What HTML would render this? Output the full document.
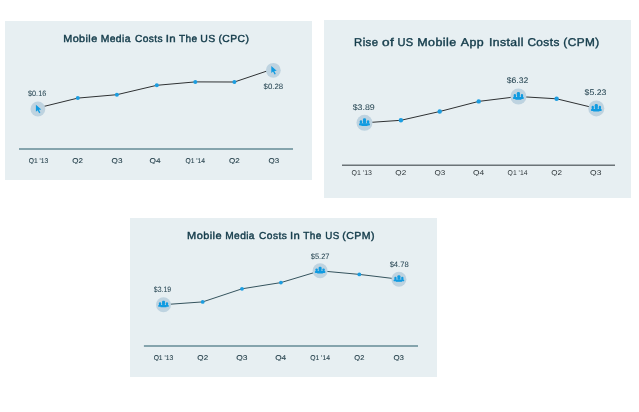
<!DOCTYPE html>
<html><head><meta charset="utf-8"><style>
html,body{margin:0;padding:0;background:#fff;width:639px;height:412px;overflow:hidden}
svg{display:block;font-family:"Liberation Sans",sans-serif;text-rendering:geometricPrecision;font-kerning:none;will-change:transform}
</style></head><body>
<svg width="639" height="412" viewBox="0 0 639 412">
<rect x="5" y="21" width="307" height="159" fill="#e7eff2"/>
<text x="63.21" y="42.00" font-size="10.2" fill="#133b4a" stroke="#133b4a" stroke-width="0.4" letter-spacing="0.4" textLength="34.39" lengthAdjust="spacingAndGlyphs">Mobile</text>
<text x="100.65" y="42.00" font-size="10.2" fill="#133b4a" stroke="#133b4a" stroke-width="0.4" letter-spacing="0.4" textLength="30.26" lengthAdjust="spacingAndGlyphs">Media</text>
<text x="134.98" y="42.00" font-size="10.2" fill="#133b4a" stroke="#133b4a" stroke-width="0.4" letter-spacing="0.4" textLength="28.09" lengthAdjust="spacingAndGlyphs">Costs</text>
<text x="165.74" y="42.00" font-size="10.2" fill="#133b4a" stroke="#133b4a" stroke-width="0.4" letter-spacing="0.4" textLength="10.45" lengthAdjust="spacingAndGlyphs">In</text>
<text x="179.07" y="42.00" font-size="10.2" fill="#133b4a" stroke="#133b4a" stroke-width="0.4" letter-spacing="0.4" textLength="18.46" lengthAdjust="spacingAndGlyphs">The</text>
<text x="200.29" y="42.00" font-size="10.2" fill="#133b4a" stroke="#133b4a" stroke-width="0.4" letter-spacing="0.4" textLength="15.40" lengthAdjust="spacingAndGlyphs">US</text>
<text x="218.46" y="42.00" font-size="10.2" fill="#133b4a" stroke="#133b4a" stroke-width="0.4" letter-spacing="0.4" textLength="30.90" lengthAdjust="spacingAndGlyphs">(CPC)</text>
<line x1="19" y1="149" x2="293" y2="149" stroke="#85a4ad" stroke-width="2"/>
<clipPath id="c5"><rect x="5" y="155.00" width="307" height="8.90"/></clipPath><g clip-path="url(#c5)">
<text x="28.73" y="163.00" font-size="7" fill="#28434e" stroke="#28434e" stroke-width="0.1" textLength="19.51" lengthAdjust="spacingAndGlyphs">Q1 &#39;13</text>
<text x="72.27" y="163.00" font-size="7" fill="#28434e" stroke="#28434e" stroke-width="0.1" textLength="10.68" lengthAdjust="spacingAndGlyphs">Q2</text>
<text x="111.57" y="163.00" font-size="7" fill="#28434e" stroke="#28434e" stroke-width="0.1" textLength="10.84" lengthAdjust="spacingAndGlyphs">Q3</text>
<text x="149.46" y="163.00" font-size="7" fill="#28434e" stroke="#28434e" stroke-width="0.1" textLength="11.03" lengthAdjust="spacingAndGlyphs">Q4</text>
<text x="185.43" y="163.00" font-size="7" fill="#28434e" stroke="#28434e" stroke-width="0.1" textLength="19.51" lengthAdjust="spacingAndGlyphs">Q1 &#39;14</text>
<text x="229.07" y="163.00" font-size="7" fill="#28434e" stroke="#28434e" stroke-width="0.1" textLength="10.68" lengthAdjust="spacingAndGlyphs">Q2</text>
<text x="268.57" y="163.00" font-size="7" fill="#28434e" stroke="#28434e" stroke-width="0.1" textLength="10.63" lengthAdjust="spacingAndGlyphs">Q3</text>
</g>
<path d="M37.90,107.90 L77.80,98.10 L116.90,94.70 L156.80,85.30 L195.30,81.90 L234.40,82.00 L273.30,68.90" fill="none" stroke="#2e3133" stroke-width="1"/>
<circle cx="37.90" cy="109.00" r="7.4" fill="#bed3e0"/>
<path d="M35.90,104.70 L35.90,111.80 L37.60,110.20 L39.20,113.20 L40.40,112.60 L38.90,109.70 L41.30,109.40 Z" fill="#109be1"/>
<circle cx="77.80" cy="98.10" r="2.0" fill="#1c9de0"/>
<circle cx="116.90" cy="94.70" r="2.0" fill="#1c9de0"/>
<circle cx="156.80" cy="85.30" r="2.0" fill="#1c9de0"/>
<circle cx="195.30" cy="81.90" r="2.0" fill="#1c9de0"/>
<circle cx="234.40" cy="82.00" r="2.0" fill="#1c9de0"/>
<circle cx="273.30" cy="70.30" r="7.4" fill="#bed3e0"/>
<path d="M271.30,66.00 L271.30,73.10 L273.00,71.50 L274.60,74.50 L275.80,73.90 L274.30,71.00 L276.70,70.70 Z" fill="#109be1"/>
<text x="28.05" y="95.90" font-size="7.8" fill="#2c4a57" stroke="#2c4a57" stroke-width="0.05" textLength="18.15" lengthAdjust="spacingAndGlyphs">$0.16</text>
<text x="263.64" y="89.40" font-size="7.8" fill="#2c4a57" stroke="#2c4a57" stroke-width="0.05" textLength="19.57" lengthAdjust="spacingAndGlyphs">$0.28</text>
<rect x="324" y="20" width="307" height="178" fill="#e7eff2"/>
<text x="354.07" y="45.60" font-size="11.3" fill="#133b4a" stroke="#133b4a" stroke-width="0.4" letter-spacing="0.4" textLength="24.34" lengthAdjust="spacingAndGlyphs">Rise</text>
<text x="382.03" y="45.60" font-size="11.3" fill="#133b4a" stroke="#133b4a" stroke-width="0.4" letter-spacing="0.4" textLength="12.34" lengthAdjust="spacingAndGlyphs">of</text>
<text x="397.45" y="45.60" font-size="11.3" fill="#133b4a" stroke="#133b4a" stroke-width="0.4" letter-spacing="0.4" textLength="16.15" lengthAdjust="spacingAndGlyphs">US</text>
<text x="417.28" y="45.60" font-size="11.3" fill="#133b4a" stroke="#133b4a" stroke-width="0.4" letter-spacing="0.4" textLength="39.42" lengthAdjust="spacingAndGlyphs">Mobile</text>
<text x="460.78" y="45.60" font-size="11.3" fill="#133b4a" stroke="#133b4a" stroke-width="0.4" letter-spacing="0.4" textLength="23.38" lengthAdjust="spacingAndGlyphs">App</text>
<text x="488.97" y="45.60" font-size="11.3" fill="#133b4a" stroke="#133b4a" stroke-width="0.4" letter-spacing="0.4" textLength="34.87" lengthAdjust="spacingAndGlyphs">Install</text>
<text x="527.40" y="45.60" font-size="11.3" fill="#133b4a" stroke="#133b4a" stroke-width="0.4" letter-spacing="0.4" textLength="32.35" lengthAdjust="spacingAndGlyphs">Costs</text>
<text x="563.37" y="45.60" font-size="11.3" fill="#133b4a" stroke="#133b4a" stroke-width="0.4" letter-spacing="0.4" textLength="36.18" lengthAdjust="spacingAndGlyphs">(CPM)</text>
<line x1="342" y1="165.2" x2="615" y2="165.2" stroke="#6b7377" stroke-width="1.5"/>
<clipPath id="c324"><rect x="324" y="167.00" width="307" height="8.90"/></clipPath><g clip-path="url(#c324)">
<text x="351.57" y="175.00" font-size="7" fill="#2f373b" textLength="20.34" lengthAdjust="spacingAndGlyphs">Q1 &#39;13</text>
<text x="395.31" y="175.00" font-size="7" fill="#2f373b" textLength="10.90" lengthAdjust="spacingAndGlyphs">Q2</text>
<text x="434.52" y="175.00" font-size="7" fill="#2f373b" textLength="10.84" lengthAdjust="spacingAndGlyphs">Q3</text>
<text x="473.10" y="175.00" font-size="7" fill="#2f373b" textLength="11.14" lengthAdjust="spacingAndGlyphs">Q4</text>
<text x="507.58" y="175.00" font-size="7" fill="#2f373b" textLength="19.92" lengthAdjust="spacingAndGlyphs">Q1 &#39;14</text>
<text x="551.22" y="175.00" font-size="7" fill="#2f373b" textLength="10.79" lengthAdjust="spacingAndGlyphs">Q2</text>
<text x="590.00" y="175.00" font-size="7" fill="#2f373b" textLength="11.38" lengthAdjust="spacingAndGlyphs">Q3</text>
</g>
<path d="M364.50,122.80 L400.90,120.30 L439.70,111.50 L478.70,101.40 L518.40,96.50 L556.60,98.80 L596.30,108.40" fill="none" stroke="#2e3133" stroke-width="1"/>
<circle cx="364.50" cy="122.80" r="8.0" fill="#bed3e0"/>
<rect x="359.00" y="123.30" width="11.00" height="2.10" rx="1.00" fill="#109be1"/><rect x="361.30" y="124.50" width="6.40" height="1.50" rx="0.70" fill="#109be1"/><rect x="359.80" y="120.20" width="2.30" height="3.60" rx="1.10" fill="#109be1"/><rect x="366.90" y="120.20" width="2.30" height="3.60" rx="1.10" fill="#109be1"/><rect x="362.95" y="118.30" width="3.10" height="5.40" rx="1.30" fill="#109be1"/>
<circle cx="400.90" cy="120.30" r="2.2" fill="#1c9de0"/>
<circle cx="439.70" cy="111.50" r="2.2" fill="#1c9de0"/>
<circle cx="478.70" cy="101.40" r="2.2" fill="#1c9de0"/>
<circle cx="518.40" cy="96.50" r="8.0" fill="#bed3e0"/>
<rect x="512.90" y="97.00" width="11.00" height="2.10" rx="1.00" fill="#109be1"/><rect x="515.20" y="98.20" width="6.40" height="1.50" rx="0.70" fill="#109be1"/><rect x="513.70" y="93.90" width="2.30" height="3.60" rx="1.10" fill="#109be1"/><rect x="520.80" y="93.90" width="2.30" height="3.60" rx="1.10" fill="#109be1"/><rect x="516.85" y="92.00" width="3.10" height="5.40" rx="1.30" fill="#109be1"/>
<circle cx="556.60" cy="98.80" r="2.2" fill="#1c9de0"/>
<circle cx="596.30" cy="108.40" r="8.0" fill="#bed3e0"/>
<rect x="590.80" y="108.90" width="11.00" height="2.10" rx="1.00" fill="#109be1"/><rect x="593.10" y="110.10" width="6.40" height="1.50" rx="0.70" fill="#109be1"/><rect x="591.60" y="105.80" width="2.30" height="3.60" rx="1.10" fill="#109be1"/><rect x="598.70" y="105.80" width="2.30" height="3.60" rx="1.10" fill="#109be1"/><rect x="594.75" y="103.90" width="3.10" height="5.40" rx="1.30" fill="#109be1"/>
<text x="352.73" y="109.70" font-size="8.2" fill="#2c4a57" stroke="#2c4a57" stroke-width="0.05" textLength="22.06" lengthAdjust="spacingAndGlyphs">$3.89</text>
<text x="506.73" y="83.10" font-size="8.2" fill="#2c4a57" stroke="#2c4a57" stroke-width="0.05" textLength="21.68" lengthAdjust="spacingAndGlyphs">$6.32</text>
<text x="584.53" y="95.30" font-size="8.2" fill="#2c4a57" stroke="#2c4a57" stroke-width="0.05" textLength="21.93" lengthAdjust="spacingAndGlyphs">$5.23</text>
<rect x="130" y="218" width="307" height="159" fill="#e7eff2"/>
<text x="187.10" y="239.00" font-size="10.1" fill="#133b4a" stroke="#133b4a" stroke-width="0.4" letter-spacing="0.4" textLength="34.92" lengthAdjust="spacingAndGlyphs">Mobile</text>
<text x="225.27" y="239.00" font-size="10.1" fill="#133b4a" stroke="#133b4a" stroke-width="0.4" letter-spacing="0.4" textLength="29.63" lengthAdjust="spacingAndGlyphs">Media</text>
<text x="259.08" y="239.00" font-size="10.1" fill="#133b4a" stroke="#133b4a" stroke-width="0.4" letter-spacing="0.4" textLength="28.09" lengthAdjust="spacingAndGlyphs">Costs</text>
<text x="289.96" y="239.00" font-size="10.1" fill="#133b4a" stroke="#133b4a" stroke-width="0.4" letter-spacing="0.4" textLength="10.33" lengthAdjust="spacingAndGlyphs">In</text>
<text x="303.27" y="239.00" font-size="10.1" fill="#133b4a" stroke="#133b4a" stroke-width="0.4" letter-spacing="0.4" textLength="18.47" lengthAdjust="spacingAndGlyphs">The</text>
<text x="325.34" y="239.00" font-size="10.1" fill="#133b4a" stroke="#133b4a" stroke-width="0.4" letter-spacing="0.4" textLength="14.39" lengthAdjust="spacingAndGlyphs">US</text>
<text x="342.34" y="239.00" font-size="10.1" fill="#133b4a" stroke="#133b4a" stroke-width="0.4" letter-spacing="0.4" textLength="32.63" lengthAdjust="spacingAndGlyphs">(CPM)</text>
<line x1="143.9" y1="346" x2="418" y2="346" stroke="#85a4ad" stroke-width="2"/>
<clipPath id="c130"><rect x="130" y="352.10" width="307" height="8.90"/></clipPath><g clip-path="url(#c130)">
<text x="153.63" y="360.10" font-size="7" fill="#28434e" stroke="#28434e" stroke-width="0.1" textLength="19.61" lengthAdjust="spacingAndGlyphs">Q1 &#39;13</text>
<text x="197.37" y="360.10" font-size="7" fill="#28434e" stroke="#28434e" stroke-width="0.1" textLength="10.79" lengthAdjust="spacingAndGlyphs">Q2</text>
<text x="236.25" y="360.10" font-size="7" fill="#28434e" stroke="#28434e" stroke-width="0.1" textLength="11.27" lengthAdjust="spacingAndGlyphs">Q3</text>
<text x="275.16" y="360.10" font-size="7" fill="#28434e" stroke="#28434e" stroke-width="0.1" textLength="11.03" lengthAdjust="spacingAndGlyphs">Q4</text>
<text x="310.23" y="360.10" font-size="7" fill="#28434e" stroke="#28434e" stroke-width="0.1" textLength="19.72" lengthAdjust="spacingAndGlyphs">Q1 &#39;14</text>
<text x="354.29" y="360.10" font-size="7" fill="#28434e" stroke="#28434e" stroke-width="0.1" textLength="10.03" lengthAdjust="spacingAndGlyphs">Q2</text>
<text x="393.48" y="360.10" font-size="7" fill="#28434e" stroke="#28434e" stroke-width="0.1" textLength="10.52" lengthAdjust="spacingAndGlyphs">Q3</text>
</g>
<path d="M163.50,304.70 L202.70,301.90 L242.00,288.80 L280.90,282.60 L320.10,270.80 L359.30,274.40 L398.90,279.20" fill="none" stroke="#2b4b55" stroke-width="0.95"/>
<circle cx="163.50" cy="304.70" r="7.5" fill="#bed3e0"/>
<rect x="158.16" y="305.00" width="10.67" height="1.83" rx="0.87" fill="#109be1"/><rect x="160.40" y="306.04" width="6.21" height="1.30" rx="0.61" fill="#109be1"/><rect x="158.94" y="302.30" width="2.23" height="3.13" rx="0.96" fill="#109be1"/><rect x="165.83" y="302.30" width="2.23" height="3.13" rx="0.96" fill="#109be1"/><rect x="162.00" y="300.65" width="3.01" height="4.70" rx="1.13" fill="#109be1"/>
<circle cx="202.70" cy="301.90" r="1.9" fill="#1c9de0"/>
<circle cx="242.00" cy="288.80" r="1.9" fill="#1c9de0"/>
<circle cx="280.90" cy="282.60" r="1.9" fill="#1c9de0"/>
<circle cx="320.10" cy="270.80" r="7.5" fill="#bed3e0"/>
<rect x="314.77" y="271.10" width="10.67" height="1.83" rx="0.87" fill="#109be1"/><rect x="317.00" y="272.14" width="6.21" height="1.30" rx="0.61" fill="#109be1"/><rect x="315.54" y="268.40" width="2.23" height="3.13" rx="0.96" fill="#109be1"/><rect x="322.43" y="268.40" width="2.23" height="3.13" rx="0.96" fill="#109be1"/><rect x="318.60" y="266.75" width="3.01" height="4.70" rx="1.13" fill="#109be1"/>
<circle cx="359.30" cy="274.40" r="1.9" fill="#1c9de0"/>
<circle cx="398.90" cy="279.20" r="7.5" fill="#bed3e0"/>
<rect x="393.56" y="279.50" width="10.67" height="1.83" rx="0.87" fill="#109be1"/><rect x="395.80" y="280.54" width="6.21" height="1.30" rx="0.61" fill="#109be1"/><rect x="394.34" y="276.80" width="2.23" height="3.13" rx="0.96" fill="#109be1"/><rect x="401.23" y="276.80" width="2.23" height="3.13" rx="0.96" fill="#109be1"/><rect x="397.40" y="275.15" width="3.01" height="4.70" rx="1.13" fill="#109be1"/>
<text x="153.85" y="291.80" font-size="7.8" fill="#2c4a57" stroke="#2c4a57" stroke-width="0.05" textLength="17.35" lengthAdjust="spacingAndGlyphs">$3.19</text>
<text x="310.74" y="258.80" font-size="7.8" fill="#2c4a57" stroke="#2c4a57" stroke-width="0.05" textLength="18.71" lengthAdjust="spacingAndGlyphs">$5.27</text>
<text x="389.64" y="266.80" font-size="7.8" fill="#2c4a57" stroke="#2c4a57" stroke-width="0.05" textLength="19.06" lengthAdjust="spacingAndGlyphs">$4.78</text>
</svg>
</body></html>
